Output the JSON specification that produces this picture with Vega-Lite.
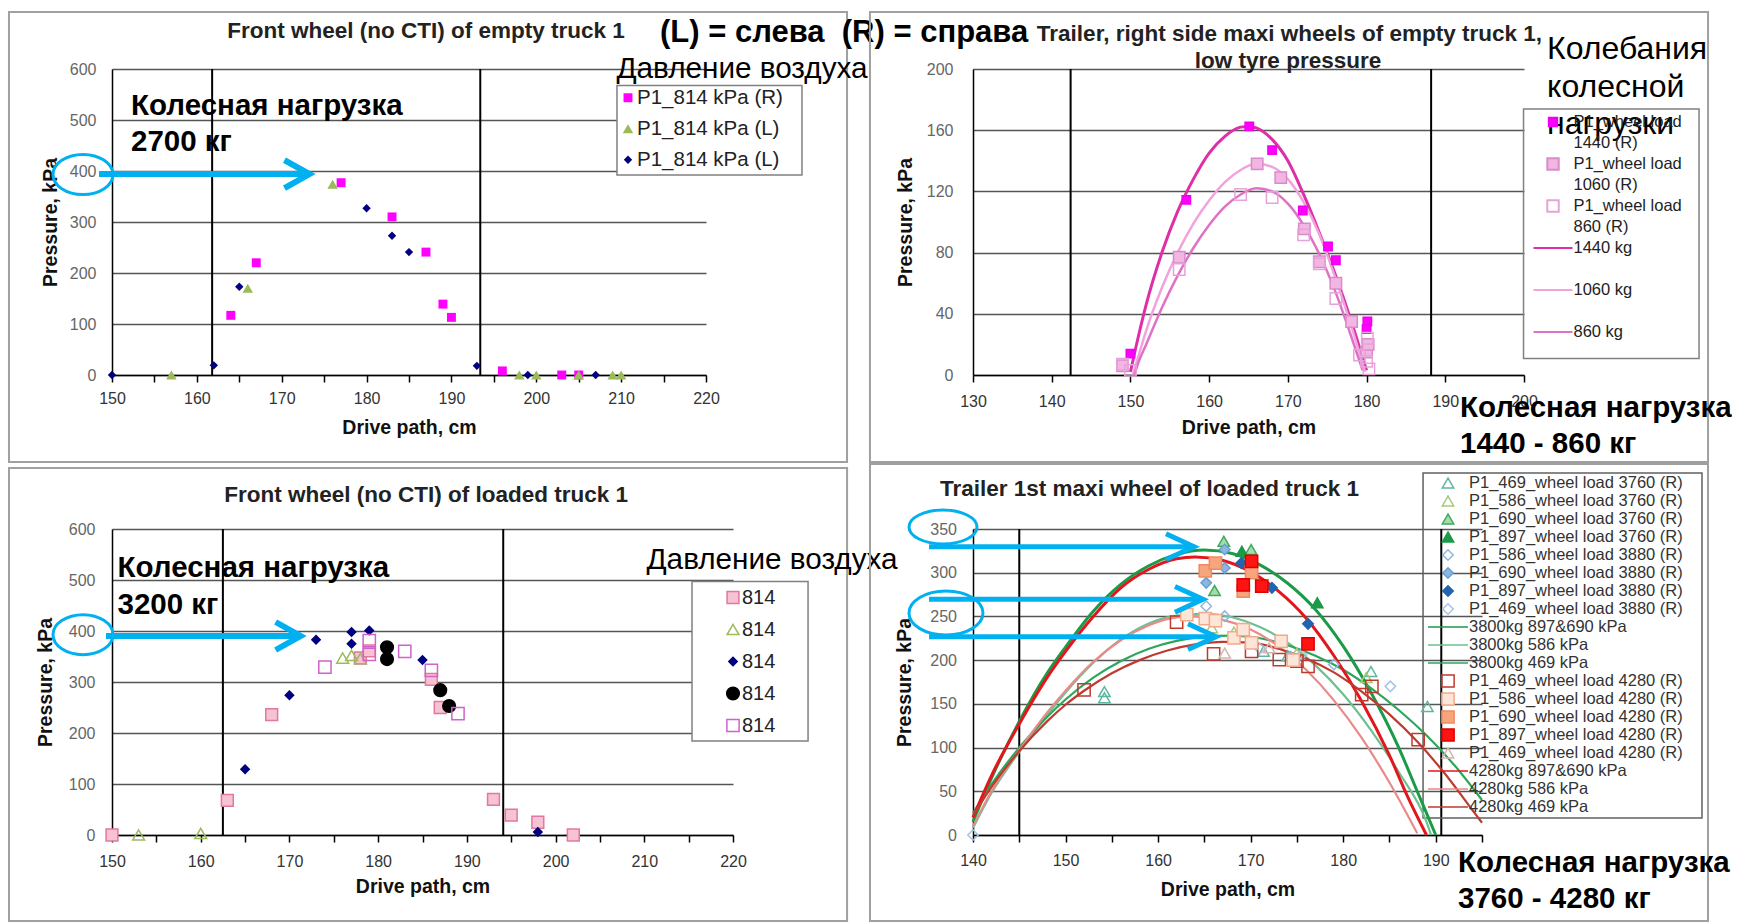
{
"$schema": "https://vega.github.io/schema/vega-lite/v6.json",
"background": "white",
"padding": {"left": 7, "top": 10, "right": 0, "bottom": 0},
"autosize": {"type": "pad"},
"columns": 2,
"spacing": {"row": 154, "column": 240},
"bounds": "flush",
"align": "all",
"resolve": {"scale": {"x": "independent", "y": "independent", "shape": "independent", "fill": "independent", "stroke": "independent", "size": "independent"}},
"config": {
  "view": {"stroke": null},
  "font": "Liberation Sans",
  "axis": {"labelFont": "Liberation Sans", "titleFont": "Liberation Sans", "labelFontSize": 16, "titleFontSize": 19.5, "titleFontWeight": "bold", "titleColor": "#111", "domainColor": "#000", "domainWidth": 1.5, "tickColor": "#000", "tickWidth": 1.5, "gridColor": "#555555", "gridWidth": 1.6, "labelFlush": false, "labelOverlap": false},
  "axisX": {"grid": false, "tickSize": 7, "labelColor": "#333"},
  "axisY": {"grid": true, "ticks": false, "labelColor": "#666"},
  "legend": {"labelFont": "Liberation Sans", "labelColor": "#222", "symbolStrokeWidth": 1.5, "labelLimit": 400}
},
"datasets": {
  "p1": [
    {"x": 164, "y": 117, "s": "P1_814 kPa (R)"}, {"x": 167, "y": 220, "s": "P1_814 kPa (R)"}, {"x": 177, "y": 377, "s": "P1_814 kPa (R)"}, {"x": 183, "y": 310, "s": "P1_814 kPa (R)"}, {"x": 187, "y": 241, "s": "P1_814 kPa (R)"}, {"x": 189, "y": 139, "s": "P1_814 kPa (R)"}, {"x": 190, "y": 113, "s": "P1_814 kPa (R)"}, {"x": 196, "y": 8, "s": "P1_814 kPa (R)"}, {"x": 203, "y": 0, "s": "P1_814 kPa (R)"}, {"x": 205, "y": 0, "s": "P1_814 kPa (R)"},
    {"x": 157, "y": 0, "s": "P1_814 kPa (L)"}, {"x": 166, "y": 170, "s": "P1_814 kPa (L)"}, {"x": 176, "y": 374, "s": "P1_814 kPa (L)"}, {"x": 198, "y": 0, "s": "P1_814 kPa (L)"}, {"x": 200, "y": 0, "s": "P1_814 kPa (L)"}, {"x": 205, "y": 0, "s": "P1_814 kPa (L)"}, {"x": 209, "y": 0, "s": "P1_814 kPa (L)"}, {"x": 210, "y": 0, "s": "P1_814 kPa (L)"},
    {"x": 150, "y": 0, "s": "P1_814 kPa (L) "}, {"x": 162, "y": 19, "s": "P1_814 kPa (L) "}, {"x": 165, "y": 173, "s": "P1_814 kPa (L) "}, {"x": 180, "y": 327, "s": "P1_814 kPa (L) "}, {"x": 183, "y": 273, "s": "P1_814 kPa (L) "}, {"x": 185, "y": 241, "s": "P1_814 kPa (L) "}, {"x": 193, "y": 18, "s": "P1_814 kPa (L) "}, {"x": 199, "y": 0, "s": "P1_814 kPa (L) "}, {"x": 207, "y": 0, "s": "P1_814 kPa (L) "}
  ],
  "p2p": [
    {"x": 150, "y": 14, "s": "s1440"}, {"x": 157.1, "y": 114.5, "s": "s1440"}, {"x": 165.1, "y": 162.5, "s": "s1440"}, {"x": 168, "y": 147, "s": "s1440"}, {"x": 171.9, "y": 107.5, "s": "s1440"}, {"x": 175.1, "y": 84, "s": "s1440"}, {"x": 176.1, "y": 75, "s": "s1440"}, {"x": 180.1, "y": 35, "s": "s1440"}, {"x": 180, "y": 30, "s": "s1440"},
    {"x": 149, "y": 6, "s": "s1060"}, {"x": 156.2, "y": 77, "s": "s1060"}, {"x": 166.1, "y": 138, "s": "s1060"}, {"x": 169.1, "y": 129, "s": "s1060"}, {"x": 172.1, "y": 95.5, "s": "s1060"}, {"x": 174, "y": 74, "s": "s1060"}, {"x": 176.1, "y": 60, "s": "s1060"}, {"x": 178.1, "y": 35, "s": "s1060"}, {"x": 180, "y": 15, "s": "s1060"}, {"x": 180.2, "y": 20, "s": "s1060"},
    {"x": 149, "y": 7, "s": "s860"}, {"x": 150, "y": 3, "s": "s860"}, {"x": 156.2, "y": 69, "s": "s860"}, {"x": 164, "y": 118, "s": "s860"}, {"x": 168, "y": 116, "s": "s860"}, {"x": 172, "y": 91.6, "s": "s860"}, {"x": 174, "y": 72.6, "s": "s860"}, {"x": 176.1, "y": 50, "s": "s860"}, {"x": 179.1, "y": 13, "s": "s860"}, {"x": 180, "y": 9, "s": "s860"}, {"x": 180.1, "y": 24, "s": "s860"}, {"x": 180.3, "y": 4, "s": "s860"}
  ],
  "p2c": [
    {"x": 150, "y": 2, "s": "1440 kg"}, {"x": 151, "y": 25, "s": "1440 kg"}, {"x": 152, "y": 46, "s": "1440 kg"}, {"x": 154, "y": 80, "s": "1440 kg"}, {"x": 156, "y": 107, "s": "1440 kg"}, {"x": 158, "y": 128, "s": "1440 kg"}, {"x": 160, "y": 145, "s": "1440 kg"}, {"x": 162, "y": 156, "s": "1440 kg"}, {"x": 164, "y": 162, "s": "1440 kg"}, {"x": 165, "y": 162.5, "s": "1440 kg"}, {"x": 166, "y": 161.5, "s": "1440 kg"}, {"x": 168, "y": 154, "s": "1440 kg"}, {"x": 170, "y": 140, "s": "1440 kg"}, {"x": 172, "y": 118, "s": "1440 kg"}, {"x": 174, "y": 93, "s": "1440 kg"}, {"x": 176, "y": 66, "s": "1440 kg"}, {"x": 178, "y": 36, "s": "1440 kg"}, {"x": 180, "y": 3, "s": "1440 kg"},
    {"x": 150.3, "y": 0, "s": "1060 kg"}, {"x": 151, "y": 12, "s": "1060 kg"}, {"x": 152, "y": 29, "s": "1060 kg"}, {"x": 154, "y": 57, "s": "1060 kg"}, {"x": 156, "y": 80, "s": "1060 kg"}, {"x": 158, "y": 99, "s": "1060 kg"}, {"x": 160, "y": 114, "s": "1060 kg"}, {"x": 162, "y": 126, "s": "1060 kg"}, {"x": 164, "y": 134, "s": "1060 kg"}, {"x": 166, "y": 138, "s": "1060 kg"}, {"x": 168, "y": 136, "s": "1060 kg"}, {"x": 170, "y": 128, "s": "1060 kg"}, {"x": 172, "y": 113, "s": "1060 kg"}, {"x": 174, "y": 92, "s": "1060 kg"}, {"x": 176, "y": 64, "s": "1060 kg"}, {"x": 178, "y": 33, "s": "1060 kg"}, {"x": 179.8, "y": 2, "s": "1060 kg"},
    {"x": 150.5, "y": 0, "s": "860 kg"}, {"x": 151, "y": 8, "s": "860 kg"}, {"x": 152, "y": 20, "s": "860 kg"}, {"x": 154, "y": 44, "s": "860 kg"}, {"x": 156, "y": 65, "s": "860 kg"}, {"x": 158, "y": 83, "s": "860 kg"}, {"x": 160, "y": 98, "s": "860 kg"}, {"x": 162, "y": 110, "s": "860 kg"}, {"x": 164, "y": 118, "s": "860 kg"}, {"x": 166, "y": 122, "s": "860 kg"}, {"x": 168, "y": 120, "s": "860 kg"}, {"x": 170, "y": 112, "s": "860 kg"}, {"x": 172, "y": 98, "s": "860 kg"}, {"x": 174, "y": 79, "s": "860 kg"}, {"x": 176, "y": 55, "s": "860 kg"}, {"x": 178, "y": 26, "s": "860 kg"}, {"x": 179.5, "y": 3, "s": "860 kg"}
  ],
  "p3": [
    {"x": 150, "y": 0, "s": "814"}, {"x": 163, "y": 68, "s": "814"}, {"x": 168, "y": 236, "s": "814"}, {"x": 178, "y": 347, "s": "814"}, {"x": 179, "y": 361, "s": "814"}, {"x": 186, "y": 305, "s": "814"}, {"x": 187, "y": 250, "s": "814"}, {"x": 193, "y": 70, "s": "814"}, {"x": 195, "y": 39, "s": "814"}, {"x": 198, "y": 25, "s": "814"}, {"x": 202, "y": 0, "s": "814"},
    {"x": 153, "y": 0, "s": "814 "}, {"x": 160, "y": 3, "s": "814 "}, {"x": 176, "y": 347, "s": "814 "}, {"x": 177, "y": 352, "s": "814 "}, {"x": 178, "y": 346, "s": "814 "},
    {"x": 165, "y": 129, "s": "814  "}, {"x": 170, "y": 274, "s": "814  "}, {"x": 173, "y": 383, "s": "814  "}, {"x": 177, "y": 398, "s": "814  "}, {"x": 177, "y": 375, "s": "814  "}, {"x": 179, "y": 401, "s": "814  "}, {"x": 185, "y": 343, "s": "814  "}, {"x": 198, "y": 6, "s": "814  "},
    {"x": 181, "y": 368, "s": "814   "}, {"x": 181, "y": 345, "s": "814   "}, {"x": 187, "y": 284, "s": "814   "}, {"x": 188, "y": 253, "s": "814   "},
    {"x": 174, "y": 329, "s": "814    "}, {"x": 179, "y": 381, "s": "814    "}, {"x": 179, "y": 354, "s": "814    "}, {"x": 183, "y": 360, "s": "814    "}, {"x": 186, "y": 323, "s": "814    "}, {"x": 189, "y": 238, "s": "814    "}
  ],
  "p4p": [
    {"x": 154.2, "y": 164, "s": "P1_469_wheel load 3760 (R)"}, {"x": 154.2, "y": 157, "s": "P1_469_wheel load 3760 (R)"}, {"x": 171.4, "y": 210, "s": "P1_469_wheel load 3760 (R)"}, {"x": 183, "y": 187, "s": "P1_469_wheel load 3760 (R)"}, {"x": 189.1, "y": 147, "s": "P1_469_wheel load 3760 (R)"}, {"x": 174, "y": 205, "s": "P1_469_wheel load 3760 (R)"},
    {"x": 165.8, "y": 237, "s": "P1_586_wheel load 3760 (R)"}, {"x": 168.2, "y": 232, "s": "P1_586_wheel load 3760 (R)"}, {"x": 175, "y": 208, "s": "P1_586_wheel load 3760 (R)"}, {"x": 182.5, "y": 180, "s": "P1_586_wheel load 3760 (R)"},
    {"x": 167.1, "y": 336, "s": "P1_690_wheel load 3760 (R)"}, {"x": 166.1, "y": 279.6, "s": "P1_690_wheel load 3760 (R)"}, {"x": 170.05, "y": 326.5, "s": "P1_690_wheel load 3760 (R)"},
    {"x": 169.05, "y": 324.6, "s": "P1_897_wheel load 3760 (R)"}, {"x": 177.2, "y": 265.6, "s": "P1_897_wheel load 3760 (R)"},
    {"x": 165.2, "y": 261.7, "s": "P1_586_wheel load 3880 (R)"}, {"x": 167.2, "y": 250.3, "s": "P1_586_wheel load 3880 (R)"}, {"x": 179, "y": 195, "s": "P1_586_wheel load 3880 (R)"}, {"x": 174.3, "y": 204, "s": "P1_586_wheel load 3880 (R)"},
    {"x": 167.2, "y": 326.5, "s": "P1_690_wheel load 3880 (R)"}, {"x": 167.2, "y": 305.5, "s": "P1_690_wheel load 3880 (R)"}, {"x": 165.2, "y": 288.4, "s": "P1_690_wheel load 3880 (R)"},
    {"x": 169, "y": 311, "s": "P1_897_wheel load 3880 (R)"}, {"x": 172.3, "y": 282.7, "s": "P1_897_wheel load 3880 (R)"}, {"x": 176.2, "y": 241.5, "s": "P1_897_wheel load 3880 (R)"},
    {"x": 140, "y": 0, "s": "P1_469_wheel load 3880 (R)"}, {"x": 185.1, "y": 170, "s": "P1_469_wheel load 3880 (R)"}, {"x": 171, "y": 213, "s": "P1_469_wheel load 3880 (R)"}, {"x": 175.5, "y": 206, "s": "P1_469_wheel load 3880 (R)"},
    {"x": 152, "y": 166, "s": "P1_469_wheel load 4280 (R)"}, {"x": 162, "y": 243.4, "s": "P1_469_wheel load 4280 (R)"}, {"x": 166, "y": 207.2, "s": "P1_469_wheel load 4280 (R)"}, {"x": 170.1, "y": 210, "s": "P1_469_wheel load 4280 (R)"}, {"x": 173.1, "y": 200.7, "s": "P1_469_wheel load 4280 (R)"}, {"x": 175, "y": 198.8, "s": "P1_469_wheel load 4280 (R)"}, {"x": 176.2, "y": 193, "s": "P1_469_wheel load 4280 (R)"}, {"x": 182, "y": 160.7, "s": "P1_469_wheel load 4280 (R)"}, {"x": 183.1, "y": 170, "s": "P1_469_wheel load 4280 (R)"}, {"x": 188.1, "y": 109, "s": "P1_469_wheel load 4280 (R)"},
    {"x": 163.1, "y": 252, "s": "P1_586_wheel load 4280 (R)"}, {"x": 165.1, "y": 247.6, "s": "P1_586_wheel load 4280 (R)"}, {"x": 166.2, "y": 245.3, "s": "P1_586_wheel load 4280 (R)"}, {"x": 168.2, "y": 225.5, "s": "P1_586_wheel load 4280 (R)"}, {"x": 169.2, "y": 235, "s": "P1_586_wheel load 4280 (R)"}, {"x": 170.1, "y": 219.7, "s": "P1_586_wheel load 4280 (R)"}, {"x": 173.3, "y": 221.5, "s": "P1_586_wheel load 4280 (R)"}, {"x": 174.6, "y": 200, "s": "P1_586_wheel load 4280 (R)"},
    {"x": 165.1, "y": 302, "s": "P1_690_wheel load 4280 (R)"}, {"x": 166.2, "y": 311, "s": "P1_690_wheel load 4280 (R)"}, {"x": 170.1, "y": 300, "s": "P1_690_wheel load 4280 (R)"}, {"x": 169.2, "y": 279, "s": "P1_690_wheel load 4280 (R)"},
    {"x": 170.1, "y": 313, "s": "P1_897_wheel load 4280 (R)"}, {"x": 169.2, "y": 286, "s": "P1_897_wheel load 4280 (R)"}, {"x": 171.2, "y": 284.6, "s": "P1_897_wheel load 4280 (R)"}, {"x": 176.2, "y": 218.7, "s": "P1_897_wheel load 4280 (R)"},
    {"x": 167.2, "y": 208, "s": "P1_469_wheel load 4280 (R) "}, {"x": 172, "y": 214, "s": "P1_469_wheel load 4280 (R) "}
  ],
  "p4c": [
    {"x": 140, "y": 15, "s": "3800kg 897&690 kPa"}, {"x": 142, "y": 65, "s": "3800kg 897&690 kPa"}, {"x": 145, "y": 130, "s": "3800kg 897&690 kPa"}, {"x": 148, "y": 185, "s": "3800kg 897&690 kPa"}, {"x": 150, "y": 215, "s": "3800kg 897&690 kPa"}, {"x": 153, "y": 256, "s": "3800kg 897&690 kPa"}, {"x": 156, "y": 287, "s": "3800kg 897&690 kPa"}, {"x": 159, "y": 308, "s": "3800kg 897&690 kPa"}, {"x": 162, "y": 321, "s": "3800kg 897&690 kPa"}, {"x": 165, "y": 326, "s": "3800kg 897&690 kPa"}, {"x": 168, "y": 322, "s": "3800kg 897&690 kPa"}, {"x": 171, "y": 309, "s": "3800kg 897&690 kPa"}, {"x": 174, "y": 288, "s": "3800kg 897&690 kPa"}, {"x": 177, "y": 258, "s": "3800kg 897&690 kPa"}, {"x": 180, "y": 216, "s": "3800kg 897&690 kPa"}, {"x": 183, "y": 163, "s": "3800kg 897&690 kPa"}, {"x": 186, "y": 100, "s": "3800kg 897&690 kPa"}, {"x": 188, "y": 50, "s": "3800kg 897&690 kPa"}, {"x": 190, "y": 0, "s": "3800kg 897&690 kPa"},
    {"x": 140, "y": 8, "s": "3800kg 586 kPa"}, {"x": 142, "y": 48, "s": "3800kg 586 kPa"}, {"x": 145, "y": 95, "s": "3800kg 586 kPa"}, {"x": 148, "y": 137, "s": "3800kg 586 kPa"}, {"x": 150, "y": 163, "s": "3800kg 586 kPa"}, {"x": 153, "y": 197, "s": "3800kg 586 kPa"}, {"x": 156, "y": 224, "s": "3800kg 586 kPa"}, {"x": 159, "y": 242, "s": "3800kg 586 kPa"}, {"x": 162, "y": 251, "s": "3800kg 586 kPa"}, {"x": 165, "y": 253, "s": "3800kg 586 kPa"}, {"x": 168, "y": 249, "s": "3800kg 586 kPa"}, {"x": 171, "y": 238, "s": "3800kg 586 kPa"}, {"x": 174, "y": 220, "s": "3800kg 586 kPa"}, {"x": 177, "y": 194, "s": "3800kg 586 kPa"}, {"x": 180, "y": 161, "s": "3800kg 586 kPa"}, {"x": 183, "y": 120, "s": "3800kg 586 kPa"}, {"x": 186, "y": 72, "s": "3800kg 586 kPa"}, {"x": 189, "y": 15, "s": "3800kg 586 kPa"}, {"x": 189.5, "y": 0, "s": "3800kg 586 kPa"},
    {"x": 140, "y": 25, "s": "3800kg 469 kPa"}, {"x": 142, "y": 58, "s": "3800kg 469 kPa"}, {"x": 145, "y": 100, "s": "3800kg 469 kPa"}, {"x": 148, "y": 135, "s": "3800kg 469 kPa"}, {"x": 150, "y": 155, "s": "3800kg 469 kPa"}, {"x": 153, "y": 180, "s": "3800kg 469 kPa"}, {"x": 156, "y": 199, "s": "3800kg 469 kPa"}, {"x": 159, "y": 213, "s": "3800kg 469 kPa"}, {"x": 162, "y": 222, "s": "3800kg 469 kPa"}, {"x": 165, "y": 227, "s": "3800kg 469 kPa"}, {"x": 168, "y": 228, "s": "3800kg 469 kPa"}, {"x": 171, "y": 225, "s": "3800kg 469 kPa"}, {"x": 174, "y": 217, "s": "3800kg 469 kPa"}, {"x": 177, "y": 205, "s": "3800kg 469 kPa"}, {"x": 180, "y": 189, "s": "3800kg 469 kPa"}, {"x": 183, "y": 168, "s": "3800kg 469 kPa"}, {"x": 186, "y": 143, "s": "3800kg 469 kPa"}, {"x": 189, "y": 114, "s": "3800kg 469 kPa"}, {"x": 192, "y": 80, "s": "3800kg 469 kPa"}, {"x": 195, "y": 40, "s": "3800kg 469 kPa"},
    {"x": 140, "y": 20, "s": "4280kg 897&690 kPa"}, {"x": 142, "y": 68, "s": "4280kg 897&690 kPa"}, {"x": 145, "y": 127, "s": "4280kg 897&690 kPa"}, {"x": 148, "y": 180, "s": "4280kg 897&690 kPa"}, {"x": 150, "y": 210, "s": "4280kg 897&690 kPa"}, {"x": 153, "y": 250, "s": "4280kg 897&690 kPa"}, {"x": 156, "y": 283, "s": "4280kg 897&690 kPa"}, {"x": 159, "y": 304, "s": "4280kg 897&690 kPa"}, {"x": 162, "y": 316, "s": "4280kg 897&690 kPa"}, {"x": 164, "y": 318, "s": "4280kg 897&690 kPa"}, {"x": 167, "y": 314, "s": "4280kg 897&690 kPa"}, {"x": 170, "y": 301, "s": "4280kg 897&690 kPa"}, {"x": 173, "y": 279, "s": "4280kg 897&690 kPa"}, {"x": 176, "y": 248, "s": "4280kg 897&690 kPa"}, {"x": 179, "y": 205, "s": "4280kg 897&690 kPa"}, {"x": 182, "y": 153, "s": "4280kg 897&690 kPa"}, {"x": 185, "y": 91, "s": "4280kg 897&690 kPa"}, {"x": 187, "y": 43, "s": "4280kg 897&690 kPa"}, {"x": 189, "y": 0, "s": "4280kg 897&690 kPa"},
    {"x": 140, "y": 10, "s": "4280kg 586 kPa"}, {"x": 142, "y": 50, "s": "4280kg 586 kPa"}, {"x": 145, "y": 97, "s": "4280kg 586 kPa"}, {"x": 148, "y": 140, "s": "4280kg 586 kPa"}, {"x": 150, "y": 165, "s": "4280kg 586 kPa"}, {"x": 153, "y": 198, "s": "4280kg 586 kPa"}, {"x": 156, "y": 223, "s": "4280kg 586 kPa"}, {"x": 159, "y": 240, "s": "4280kg 586 kPa"}, {"x": 162, "y": 249, "s": "4280kg 586 kPa"}, {"x": 164, "y": 250, "s": "4280kg 586 kPa"}, {"x": 167, "y": 246, "s": "4280kg 586 kPa"}, {"x": 170, "y": 235, "s": "4280kg 586 kPa"}, {"x": 173, "y": 216, "s": "4280kg 586 kPa"}, {"x": 176, "y": 189, "s": "4280kg 586 kPa"}, {"x": 179, "y": 154, "s": "4280kg 586 kPa"}, {"x": 182, "y": 111, "s": "4280kg 586 kPa"}, {"x": 185, "y": 60, "s": "4280kg 586 kPa"}, {"x": 188, "y": 2, "s": "4280kg 586 kPa"},
    {"x": 140, "y": 22, "s": "4280kg 469 kPa"}, {"x": 142, "y": 55, "s": "4280kg 469 kPa"}, {"x": 145, "y": 96, "s": "4280kg 469 kPa"}, {"x": 148, "y": 130, "s": "4280kg 469 kPa"}, {"x": 150, "y": 149, "s": "4280kg 469 kPa"}, {"x": 152, "y": 165, "s": "4280kg 469 kPa"}, {"x": 155, "y": 185, "s": "4280kg 469 kPa"}, {"x": 158, "y": 200, "s": "4280kg 469 kPa"}, {"x": 161, "y": 211, "s": "4280kg 469 kPa"}, {"x": 164, "y": 218, "s": "4280kg 469 kPa"}, {"x": 167, "y": 221, "s": "4280kg 469 kPa"}, {"x": 170, "y": 220, "s": "4280kg 469 kPa"}, {"x": 173, "y": 213, "s": "4280kg 469 kPa"}, {"x": 176, "y": 202, "s": "4280kg 469 kPa"}, {"x": 179, "y": 186, "s": "4280kg 469 kPa"}, {"x": 182, "y": 164, "s": "4280kg 469 kPa"}, {"x": 185, "y": 138, "s": "4280kg 469 kPa"}, {"x": 188, "y": 107, "s": "4280kg 469 kPa"}, {"x": 191, "y": 70, "s": "4280kg 469 kPa"}, {"x": 194, "y": 28, "s": "4280kg 469 kPa"}, {"x": 195, "y": 14, "s": "4280kg 469 kPa"}
  ]
},
"concat": [
  {
    "width": 594, "height": 306,
    "layer": [
      {"data": {"values": [{}]}, "mark": {"type": "rect", "fill": "transparent", "stroke": "#a0a0a0", "strokeWidth": 2},
       "encoding": {"x": {"datum": 137.86}, "x2": {"datum": 236.62}, "y": {"datum": 711.8}, "y2": {"datum": -170.6}}},
      {"data": {"values": [{"x": 161.8}, {"x": 193.4}]}, "mark": {"type": "rule", "color": "#000", "strokeWidth": 2},
       "encoding": {"x": {"field": "x", "type": "quantitative"}, "y": {"datum": 0}, "y2": {"datum": 600}}},
      {"data": {"values": [{}]}, "mark": {"type": "rect", "fill": "#ffffff", "stroke": "#808080", "strokeWidth": 1.5},
       "encoding": {"x": {"datum": 209.51}, "x2": {"datum": 231.31}, "y": {"datum": 567.6}, "y2": {"datum": 392.2}}},
      {"data": {"name": "p1"}, "mark": {"type": "point", "filled": true, "opacity": 1, "strokeWidth": 0},
       "encoding": {
         "x": {"field": "x", "type": "quantitative", "scale": {"domain": [150, 220], "nice": false, "zero": false},
               "axis": {"title": "Drive path, cm", "values": [150,155,160,165,170,175,180,185,190,195,200,205,210,215,220], "labelExpr": "datum.value % 10 === 0 ? datum.label : ''", "labelPadding": 8, "titlePadding": 12}},
         "y": {"field": "y", "type": "quantitative", "scale": {"domain": [0, 600], "nice": false, "zero": false},
               "axis": {"title": "Pressure, kPa", "values": [0,100,200,300,400,500,600], "labelPadding": 16, "titlePadding": 9}},
         "shape": {"field": "s", "type": "nominal", "scale": {"domain": ["P1_814 kPa (R)", "P1_814 kPa (L)", "P1_814 kPa (L) "], "range": ["square", "triangle-up", "diamond"]},
                   "legend": {"title": null, "orient": "none", "legendX": 505, "legendY": 15.5, "labelFontSize": 20.5, "padding": 3, "rowPadding": 10, "symbolOffset": -2.25, "labelOffset": -1.25, "fillColor": "transparent", "strokeColor": "transparent"}},
         "fill": {"field": "s", "type": "nominal", "scale": {"domain": ["P1_814 kPa (R)", "P1_814 kPa (L)", "P1_814 kPa (L) "], "range": ["#ff00ff", "#9bbb59", "#000080"]},
                  "legend": {"title": null, "orient": "none", "legendX": 505, "legendY": 15.5, "labelFontSize": 20.5, "padding": 3, "rowPadding": 10, "symbolOffset": -2.25, "labelOffset": -1.25, "fillColor": "transparent", "strokeColor": "transparent"}},
         "size": {"field": "s", "type": "nominal", "scale": {"type": "ordinal", "domain": ["P1_814 kPa (R)", "P1_814 kPa (L)", "P1_814 kPa (L) "], "range": [80, 110, 70]},
                  "legend": {"title": null, "orient": "none", "legendX": 505, "legendY": 15.5, "labelFontSize": 20.5, "padding": 3, "rowPadding": 10, "symbolOffset": -2.25, "labelOffset": -1.25, "fillColor": "transparent", "strokeColor": "transparent"}}
       }},
      {"data": {"values": [{}]}, "mark": {"type": "text", "text": "Front wheel (no CTI) of empty truck 1", "fontSize": 22.5, "fontWeight": "bold", "color": "#222", "align": "center", "baseline": "middle"},
       "encoding": {"x": {"datum": 187.0}, "y": {"datum": 674.5}}},
      {"data": {"values": [{}]}, "mark": {"type": "text", "text": "(L) = слева\u00a0 (R) = справа", "fontSize": 31, "fontWeight": "bold", "color": "#000", "align": "left", "baseline": "middle"},
       "encoding": {"x": {"datum": 214.58}, "y": {"datum": 670.6}}},
      {"data": {"values": [{}]}, "mark": {"type": "text", "text": "Давление воздуха", "fontSize": 29.7, "color": "#000", "align": "center", "baseline": "middle"},
       "encoding": {"x": {"datum": 224.24}, "y": {"datum": 600}}},
      {"data": {"values": [{}]}, "mark": {"type": "text", "text": "Колесная нагрузка", "fontSize": 29.5, "fontWeight": "bold", "color": "#000", "align": "left", "baseline": "middle"},
       "encoding": {"x": {"datum": 152.24}, "y": {"datum": 526.5}}},
      {"data": {"values": [{}]}, "mark": {"type": "text", "text": "2700 кг", "fontSize": 29.5, "fontWeight": "bold", "color": "#000", "align": "left", "baseline": "middle"},
       "encoding": {"x": {"datum": 152.24}, "y": {"datum": 456.9}}},
      {"data": {"values": [{}]}, "mark": {"type": "rule", "color": "#00b0f0", "strokeWidth": 6},
       "encoding": {"x": {"datum": 148.47}, "x2": {"datum": 172.9}, "y": {"datum": 394.1}}},
      {"data": {"values": [{}]}, "mark": {"type": "point", "shape": "M-1,-0.56L0,0L-1,0.56", "size": 2500, "filled": false, "stroke": "#00b0f0", "strokeWidth": 6, "opacity": 1},
       "encoding": {"x": {"datum": 173.27}, "y": {"datum": 394.1}}},
      {"data": {"values": [{}]}, "mark": {"type": "point", "shape": "M-1,0A1,0.667,0,1,1,1,0A1,0.667,0,1,1,-1,0Z", "size": 3600, "filled": false, "stroke": "#00b0f0", "strokeWidth": 3, "opacity": 1},
       "encoding": {"x": {"datum": 146.58}, "y": {"datum": 393.1}}}
    ]
  },
  {
    "width": 551, "height": 306,
    "layer": [
      {"data": {"values": [{}]}, "mark": {"type": "rect", "fill": "transparent", "stroke": "#a0a0a0", "strokeWidth": 2},
       "encoding": {"x": {"datum": 116.91}, "x2": {"datum": 223.38}, "y": {"datum": 237.25}, "y2": {"datum": -56.86}}},
      {"data": {"values": [{"x": 142.4}, {"x": 188.2}]}, "mark": {"type": "rule", "color": "#000", "strokeWidth": 2},
       "encoding": {"x": {"field": "x", "type": "quantitative"}, "y": {"datum": 0}, "y2": {"datum": 200}}},
      {"data": {"values": [{}]}, "mark": {"type": "rect", "fill": "transparent", "stroke": "#808080", "strokeWidth": 1.5},
       "encoding": {"x": {"datum": 199.94}, "x2": {"datum": 222.24}, "y": {"datum": 173.9}, "y2": {"datum": 10.8}}},
      {"data": {"name": "p2c"}, "mark": {"type": "line", "interpolate": "monotone"},
       "encoding": {
         "x": {"field": "x", "type": "quantitative"},
         "y": {"field": "y", "type": "quantitative"},
         "stroke": {"field": "s", "type": "nominal", "scale": {"domain": ["s1440", "l1440", "s1060", "l1060", "s860", "l860", "1440 kg", "b1", "1060 kg", "b2", "860 kg"], "range": ["#f000f0", "transparent", "#da8acb", "transparent", "#e6a3d9", "transparent", "#dd2fa8", "transparent", "#f0a3dd", "transparent", "#e071c6"]},
                    "legend": {"title": null, "orient": "none", "legendX": 550.5, "legendY": 40, "labelExpr": "(datum.value == 's1440' || datum.value == 's1060' || datum.value == 's860') ? 'P1_wheel load' : datum.value == 'l1440' ? '1440 (R)' : datum.value == 'l1060' ? '1060 (R)' : datum.value == 'l860' ? '860 (R)' : (datum.value == 'b1' || datum.value == 'b2') ? '' : datum.value", "labelFontSize": 16.5, "padding": 2.7, "rowPadding": 0, "clipHeight": 20.6, "symbolOffset": 6.3, "labelOffset": 0, "symbolStrokeWidth": 2, "fillColor": "transparent", "strokeColor": "transparent", "zindex": 0}},
         "strokeWidth": {"condition": {"test": "datum.s === '1440 kg'", "value": 3}, "value": 2.5}
       }},
      {"data": {"name": "p2p"}, "mark": {"type": "point", "filled": true, "opacity": 1, "strokeWidth": 1.5},
       "encoding": {
         "x": {"field": "x", "type": "quantitative", "scale": {"domain": [130, 200], "nice": false, "zero": false},
               "axis": {"title": "Drive path, cm", "values": [130,135,140,145,150,155,160,165,170,175,180,185,190,195,200], "labelExpr": "datum.value % 10 === 0 ? datum.label : ''", "labelPadding": 11.5, "titlePadding": 9}},
         "y": {"field": "y", "type": "quantitative", "scale": {"domain": [0, 200], "nice": false, "zero": false},
               "axis": {"title": "Pressure, kPa", "values": [0,20,40,60,80,100,120,140,160,180,200], "labelPadding": 20, "titlePadding": 11}},
         "shape": {"field": "s", "type": "nominal", "scale": {"domain": ["s1440", "l1440", "s1060", "l1060", "s860", "l860", "1440 kg", "b1", "1060 kg", "b2", "860 kg"], "range": ["square", "square", "square", "square", "square", "square", "stroke", "square", "stroke", "square", "stroke"]},
                   "legend": {"title": null, "orient": "none", "legendX": 550.5, "legendY": 40, "labelExpr": "(datum.value == 's1440' || datum.value == 's1060' || datum.value == 's860') ? 'P1_wheel load' : datum.value == 'l1440' ? '1440 (R)' : datum.value == 'l1060' ? '1060 (R)' : datum.value == 'l860' ? '860 (R)' : (datum.value == 'b1' || datum.value == 'b2') ? '' : datum.value", "labelFontSize": 16.5, "padding": 2.7, "rowPadding": 0, "clipHeight": 20.6, "symbolOffset": 6.3, "labelOffset": 0, "symbolStrokeWidth": 2, "fillColor": "transparent", "strokeColor": "transparent", "zindex": 0}},
         "fill": {"field": "s", "type": "nominal", "scale": {"domain": ["s1440", "l1440", "s1060", "l1060", "s860", "l860", "1440 kg", "b1", "1060 kg", "b2", "860 kg"], "range": ["#ff00ff", "transparent", "#f2b6e2", "transparent", "transparent", "transparent", "transparent", "transparent", "transparent", "transparent", "transparent"]},
                  "legend": {"title": null, "orient": "none", "legendX": 550.5, "legendY": 40, "labelExpr": "(datum.value == 's1440' || datum.value == 's1060' || datum.value == 's860') ? 'P1_wheel load' : datum.value == 'l1440' ? '1440 (R)' : datum.value == 'l1060' ? '1060 (R)' : datum.value == 'l860' ? '860 (R)' : (datum.value == 'b1' || datum.value == 'b2') ? '' : datum.value", "labelFontSize": 16.5, "padding": 2.7, "rowPadding": 0, "clipHeight": 20.6, "symbolOffset": 6.3, "labelOffset": 0, "symbolStrokeWidth": 2, "fillColor": "transparent", "strokeColor": "transparent", "zindex": 0}},
         "stroke": {"field": "s", "type": "nominal", "scale": {"domain": ["s1440", "l1440", "s1060", "l1060", "s860", "l860", "1440 kg", "b1", "1060 kg", "b2", "860 kg"], "range": ["#f000f0", "transparent", "#da8acb", "transparent", "#e6a3d9", "transparent", "#dd2fa8", "transparent", "#f0a3dd", "transparent", "#e071c6"]},
                    "legend": {"title": null, "orient": "none", "legendX": 550.5, "legendY": 40, "labelExpr": "(datum.value == 's1440' || datum.value == 's1060' || datum.value == 's860') ? 'P1_wheel load' : datum.value == 'l1440' ? '1440 (R)' : datum.value == 'l1060' ? '1060 (R)' : datum.value == 'l860' ? '860 (R)' : (datum.value == 'b1' || datum.value == 'b2') ? '' : datum.value", "labelFontSize": 16.5, "padding": 2.7, "rowPadding": 0, "clipHeight": 20.6, "symbolOffset": 6.3, "labelOffset": 0, "symbolStrokeWidth": 2, "fillColor": "transparent", "strokeColor": "transparent", "zindex": 0}},
         "size": {"field": "s", "type": "nominal", "scale": {"type": "ordinal", "domain": ["s1440", "l1440", "s1060", "l1060", "s860", "l860", "1440 kg", "b1", "1060 kg", "b2", "860 kg"], "range": [70, 10, 130, 10, 130, 10, 1521, 10, 1521, 10, 1521]},
                  "legend": {"title": null, "orient": "none", "legendX": 550.5, "legendY": 40, "labelExpr": "(datum.value == 's1440' || datum.value == 's1060' || datum.value == 's860') ? 'P1_wheel load' : datum.value == 'l1440' ? '1440 (R)' : datum.value == 'l1060' ? '1060 (R)' : datum.value == 'l860' ? '860 (R)' : (datum.value == 'b1' || datum.value == 'b2') ? '' : datum.value", "labelFontSize": 16.5, "padding": 2.7, "rowPadding": 0, "clipHeight": 20.6, "symbolOffset": 6.3, "labelOffset": 0, "symbolStrokeWidth": 2, "fillColor": "transparent", "strokeColor": "transparent", "zindex": 0}}
       }},
      {"data": {"values": [{}]}, "mark": {"type": "text", "text": "Trailer, right side maxi wheels of empty truck 1,", "fontSize": 22.5, "fontWeight": "bold", "color": "#222", "align": "center", "baseline": "middle"},
       "encoding": {"x": {"datum": 170.2}, "y": {"datum": 222.6}}},
      {"data": {"values": [{}]}, "mark": {"type": "text", "text": "low tyre pressure", "fontSize": 22.5, "fontWeight": "bold", "color": "#222", "align": "center", "baseline": "middle"},
       "encoding": {"x": {"datum": 170.02}, "y": {"datum": 205.2}}},
      {"data": {"values": [{}]}, "mark": {"type": "text", "text": "Колебания", "fontSize": 32, "color": "#000", "align": "left", "baseline": "middle"},
       "encoding": {"x": {"datum": 202.93}, "y": {"datum": 213.2}}},
      {"data": {"values": [{}]}, "mark": {"type": "text", "text": "колесной", "fontSize": 32, "color": "#000", "align": "left", "baseline": "middle"},
       "encoding": {"x": {"datum": 202.93}, "y": {"datum": 188.5}}},
      {"data": {"values": [{}]}, "mark": {"type": "text", "text": "нагрузки", "fontSize": 32, "color": "#000", "align": "left", "baseline": "middle"},
       "encoding": {"x": {"datum": 202.93}, "y": {"datum": 163.9}}},
      {"data": {"values": [{}]}, "mark": {"type": "text", "text": "Колесная нагрузка", "fontSize": 29.5, "fontWeight": "bold", "color": "#000", "align": "left", "baseline": "middle"},
       "encoding": {"x": {"datum": 191.87}, "y": {"datum": -21.8}}},
      {"data": {"values": [{}]}, "mark": {"type": "text", "text": "1440 - 860 кг", "fontSize": 29.5, "fontWeight": "bold", "color": "#000", "align": "left", "baseline": "middle"},
       "encoding": {"x": {"datum": 191.87}, "y": {"datum": -45.0}}}
    ]
  },
  {
    "width": 621, "height": 306,
    "layer": [
      {"data": {"values": [{}]}, "mark": {"type": "rect", "fill": "transparent", "stroke": "#a0a0a0", "strokeWidth": 2},
       "encoding": {"x": {"datum": 138.39}, "x2": {"datum": 232.86}, "y": {"datum": 719.6}, "y2": {"datum": -168.6}}},
      {"data": {"values": [{"x": 162.5}, {"x": 194.1}]}, "mark": {"type": "rule", "color": "#000", "strokeWidth": 2},
       "encoding": {"x": {"field": "x", "type": "quantitative"}, "y": {"datum": 0}, "y2": {"datum": 600}}},
      {"data": {"values": [{}]}, "mark": {"type": "rect", "fill": "#ffffff", "stroke": "#808080", "strokeWidth": 1.5},
       "encoding": {"x": {"datum": 215.38}, "x2": {"datum": 228.46}, "y": {"datum": 497.1}, "y2": {"datum": 184.3}}},
      {"data": {"name": "p3"}, "mark": {"type": "point", "filled": true, "opacity": 1, "strokeWidth": 1.5},
       "encoding": {
         "x": {"field": "x", "type": "quantitative", "scale": {"domain": [150, 220], "nice": false, "zero": false},
               "axis": {"title": "Drive path, cm", "values": [150,155,160,165,170,175,180,185,190,195,200,205,210,215,220], "labelExpr": "datum.value % 10 === 0 ? datum.label : ''", "labelPadding": 11, "titlePadding": 8}},
         "y": {"field": "y", "type": "quantitative", "scale": {"domain": [0, 600], "nice": false, "zero": false},
               "axis": {"title": "Pressure, kPa", "values": [0,100,200,300,400,500,600], "labelPadding": 17, "titlePadding": 13}},
         "shape": {"field": "s", "type": "nominal", "scale": {"domain": ["814", "814 ", "814  ", "814   ", "814    "], "range": ["square", "triangle-up", "diamond", "circle", "square"]},
                   "legend": {"title": null, "orient": "none", "legendX": 580, "legendY": 52.5, "labelFontSize": 20, "padding": 6, "rowPadding": 12, "symbolOffset": 25, "labelOffset": -1, "fillColor": "transparent", "strokeColor": "transparent"}},
         "fill": {"field": "s", "type": "nominal", "scale": {"domain": ["814", "814 ", "814  ", "814   ", "814    "], "range": ["#f7c3d4", "transparent", "#000080", "#000000", "transparent"]},
                  "legend": {"title": null, "orient": "none", "legendX": 580, "legendY": 52.5, "labelFontSize": 20, "padding": 6, "rowPadding": 12, "symbolOffset": 25, "labelOffset": -1, "fillColor": "transparent", "strokeColor": "transparent"}},
         "stroke": {"field": "s", "type": "nominal", "scale": {"domain": ["814", "814 ", "814  ", "814   ", "814    "], "range": ["#e2779f", "#9bbb59", "#000080", "#000000", "#d062cc"]},
                    "legend": {"title": null, "orient": "none", "legendX": 580, "legendY": 52.5, "labelFontSize": 20, "padding": 6, "rowPadding": 12, "symbolOffset": 25, "labelOffset": -1, "fillColor": "transparent", "strokeColor": "transparent"}},
         "size": {"field": "s", "type": "nominal", "scale": {"type": "ordinal", "domain": ["814", "814 ", "814  ", "814   ", "814    "], "range": [140, 140, 70, 160, 150]},
                  "legend": {"title": null, "orient": "none", "legendX": 580, "legendY": 52.5, "labelFontSize": 20, "padding": 6, "rowPadding": 12, "symbolOffset": 25, "labelOffset": -1, "fillColor": "transparent", "strokeColor": "transparent"}}
       }},
      {"data": {"values": [{}]}, "mark": {"type": "text", "text": "Front wheel (no CTI) of loaded truck 1", "fontSize": 22.5, "fontWeight": "bold", "color": "#222", "align": "center", "baseline": "middle"},
       "encoding": {"x": {"datum": 185.4}, "y": {"datum": 666.7}}},
      {"data": {"values": [{}]}, "mark": {"type": "text", "text": "Давление воздуха", "fontSize": 29.7, "color": "#000", "align": "center", "baseline": "middle"},
       "encoding": {"x": {"datum": 224.4}, "y": {"datum": 538.4}}},
      {"data": {"values": [{}]}, "mark": {"type": "text", "text": "Колесная нагрузка", "fontSize": 29.5, "fontWeight": "bold", "color": "#000", "align": "left", "baseline": "middle"},
       "encoding": {"x": {"datum": 150.62}, "y": {"datum": 523.5}}},
      {"data": {"values": [{}]}, "mark": {"type": "text", "text": "3200 кг", "fontSize": 29.5, "fontWeight": "bold", "color": "#000", "align": "left", "baseline": "middle"},
       "encoding": {"x": {"datum": 150.62}, "y": {"datum": 451.0}}},
      {"data": {"values": [{}]}, "mark": {"type": "rule", "color": "#00b0f0", "strokeWidth": 6},
       "encoding": {"x": {"datum": 149.32}, "x2": {"datum": 170.9}, "y": {"datum": 390.2}}},
      {"data": {"values": [{}]}, "mark": {"type": "point", "shape": "M-1,-0.56L0,0L-1,0.56", "size": 2500, "filled": false, "stroke": "#00b0f0", "strokeWidth": 6, "opacity": 1},
       "encoding": {"x": {"datum": 171.26}, "y": {"datum": 390.2}}},
      {"data": {"values": [{}]}, "mark": {"type": "point", "shape": "M-1,0A1,0.667,0,1,1,1,0A1,0.667,0,1,1,-1,0Z", "size": 3600, "filled": false, "stroke": "#00b0f0", "strokeWidth": 3, "opacity": 1},
       "encoding": {"x": {"datum": 146.73}, "y": {"datum": 392.7}}}
    ]
  },
  {
    "width": 509, "height": 306,
    "layer": [
      {"data": {"values": [{}]}, "mark": {"type": "rect", "fill": "transparent", "stroke": "#a0a0a0", "strokeWidth": 2},
       "encoding": {"x": {"datum": 128.87}, "x2": {"datum": 219.42}, "y": {"datum": 424.3}, "y2": {"datum": -98.4}}},
      {"data": {"values": [{"x": 145.0}, {"x": 190.6}]}, "mark": {"type": "rule", "color": "#000", "strokeWidth": 2},
       "encoding": {"x": {"field": "x", "type": "quantitative"}, "y": {"datum": 0}, "y2": {"datum": 350}}},
      {"data": {"values": [{}]}, "mark": {"type": "rect", "fill": "transparent", "stroke": "#606060", "strokeWidth": 1.5},
       "encoding": {"x": {"datum": 188.63}, "x2": {"datum": 218.77}, "y": {"datum": 414.0}, "y2": {"datum": 19.4}}},
      {"data": {"name": "p4c"}, "mark": {"type": "line", "interpolate": "monotone"},
       "encoding": {
         "x": {"field": "x", "type": "quantitative"},
         "y": {"field": "y", "type": "quantitative"},
         "stroke": {"field": "s", "type": "nominal", "scale": {"domain": ["P1_469_wheel load 3760 (R)", "P1_586_wheel load 3760 (R)", "P1_690_wheel load 3760 (R)", "P1_897_wheel load 3760 (R)", "P1_586_wheel load 3880 (R)", "P1_690_wheel load 3880 (R)", "P1_897_wheel load 3880 (R)", "P1_469_wheel load 3880 (R)", "3800kg 897&690 kPa", "3800kg 586 kPa", "3800kg 469 kPa", "P1_469_wheel load 4280 (R)", "P1_586_wheel load 4280 (R)", "P1_690_wheel load 4280 (R)", "P1_897_wheel load 4280 (R)", "P1_469_wheel load 4280 (R) ", "4280kg 897&690 kPa", "4280kg 586 kPa", "4280kg 469 kPa"],
                    "range": ["#5db79e", "#a7c97c", "#3eaa5e", "#1b9a48", "#8db7df", "#6a9fd3", "#2165ae", "#a8c3e3", "#1b9a48", "#6dc08f", "#2da65c", "#c0392b", "#f2a98a", "#ee8b5f", "#e00000", "#d6b4b0", "#e2161c", "#e98a8a", "#bf3a30"]},
                    "legend": {"title": null, "orient": "none", "legendX": 450, "legendY": -56, "labelFontSize": 16.5, "padding": 1, "rowPadding": 0, "clipHeight": 18, "symbolOffset": 3, "labelOffset": 0, "fillColor": "transparent", "strokeColor": "transparent", "zindex": 0, "labelColor": "#333"}},
         "strokeWidth": {"condition": {"test": "indexof(datum.s, '897') >= 0", "value": 3}, "value": 2.2}
       }},
      {"data": {"name": "p4p"}, "mark": {"type": "point", "filled": true, "opacity": 1, "strokeWidth": 1.5},
       "encoding": {
         "x": {"field": "x", "type": "quantitative", "scale": {"domain": [140, 195], "nice": false, "zero": false},
               "axis": {"title": "Drive path, cm", "values": [140,145,150,155,160,165,170,175,180,185,190,195], "labelExpr": "datum.value % 10 === 0 ? datum.label : ''", "labelPadding": 10, "titlePadding": 12}},
         "y": {"field": "y", "type": "quantitative", "scale": {"domain": [0, 350], "nice": false, "zero": false},
               "axis": {"title": "Pressure, kPa", "values": [0,50,100,150,200,250,300,350], "labelPadding": 16.5, "titlePadding": 15}},
         "shape": {"field": "s", "type": "nominal", "scale": {"domain": ["P1_469_wheel load 3760 (R)", "P1_586_wheel load 3760 (R)", "P1_690_wheel load 3760 (R)", "P1_897_wheel load 3760 (R)", "P1_586_wheel load 3880 (R)", "P1_690_wheel load 3880 (R)", "P1_897_wheel load 3880 (R)", "P1_469_wheel load 3880 (R)", "3800kg 897&690 kPa", "3800kg 586 kPa", "3800kg 469 kPa", "P1_469_wheel load 4280 (R)", "P1_586_wheel load 4280 (R)", "P1_690_wheel load 4280 (R)", "P1_897_wheel load 4280 (R)", "P1_469_wheel load 4280 (R) ", "4280kg 897&690 kPa", "4280kg 586 kPa", "4280kg 469 kPa"],
                   "range": ["triangle-up", "triangle-up", "triangle-up", "triangle-up", "diamond", "diamond", "diamond", "diamond", "stroke", "stroke", "stroke", "square", "square", "square", "square", "triangle-up", "stroke", "stroke", "stroke"]},
                   "legend": {"title": null, "orient": "none", "legendX": 450, "legendY": -56, "labelFontSize": 16.5, "padding": 1, "rowPadding": 0, "clipHeight": 18, "symbolOffset": 3, "labelOffset": 0, "fillColor": "transparent", "strokeColor": "transparent", "zindex": 0, "labelColor": "#333"}},
         "fill": {"field": "s", "type": "nominal", "scale": {"domain": ["P1_469_wheel load 3760 (R)", "P1_586_wheel load 3760 (R)", "P1_690_wheel load 3760 (R)", "P1_897_wheel load 3760 (R)", "P1_586_wheel load 3880 (R)", "P1_690_wheel load 3880 (R)", "P1_897_wheel load 3880 (R)", "P1_469_wheel load 3880 (R)", "3800kg 897&690 kPa", "3800kg 586 kPa", "3800kg 469 kPa", "P1_469_wheel load 4280 (R)", "P1_586_wheel load 4280 (R)", "P1_690_wheel load 4280 (R)", "P1_897_wheel load 4280 (R)", "P1_469_wheel load 4280 (R) ", "4280kg 897&690 kPa", "4280kg 586 kPa", "4280kg 469 kPa"],
                  "range": ["transparent", "transparent", "#a6dbae", "#1b9a48", "transparent", "#8cb6e0", "#2165ae", "transparent", "transparent", "transparent", "transparent", "transparent", "#fde5d8", "#f7a57e", "#ff1414", "transparent", "transparent", "transparent", "transparent"]},
                  "legend": {"title": null, "orient": "none", "legendX": 450, "legendY": -56, "labelFontSize": 16.5, "padding": 1, "rowPadding": 0, "clipHeight": 18, "symbolOffset": 3, "labelOffset": 0, "fillColor": "transparent", "strokeColor": "transparent", "zindex": 0, "labelColor": "#333"}},
         "stroke": {"field": "s", "type": "nominal", "scale": {"domain": ["P1_469_wheel load 3760 (R)", "P1_586_wheel load 3760 (R)", "P1_690_wheel load 3760 (R)", "P1_897_wheel load 3760 (R)", "P1_586_wheel load 3880 (R)", "P1_690_wheel load 3880 (R)", "P1_897_wheel load 3880 (R)", "P1_469_wheel load 3880 (R)", "3800kg 897&690 kPa", "3800kg 586 kPa", "3800kg 469 kPa", "P1_469_wheel load 4280 (R)", "P1_586_wheel load 4280 (R)", "P1_690_wheel load 4280 (R)", "P1_897_wheel load 4280 (R)", "P1_469_wheel load 4280 (R) ", "4280kg 897&690 kPa", "4280kg 586 kPa", "4280kg 469 kPa"],
                    "range": ["#5db79e", "#a7c97c", "#3eaa5e", "#1b9a48", "#8db7df", "#6a9fd3", "#2165ae", "#a8c3e3", "#1b9a48", "#6dc08f", "#2da65c", "#c0392b", "#f2a98a", "#ee8b5f", "#e00000", "#d6b4b0", "#e2161c", "#e98a8a", "#bf3a30"]},
                    "legend": {"title": null, "orient": "none", "legendX": 450, "legendY": -56, "labelFontSize": 16.5, "padding": 1, "rowPadding": 0, "clipHeight": 18, "symbolOffset": 3, "labelOffset": 0, "fillColor": "transparent", "strokeColor": "transparent", "zindex": 0, "labelColor": "#333"}},
         "size": {"field": "s", "type": "nominal", "scale": {"type": "ordinal", "domain": ["P1_469_wheel load 3760 (R)", "P1_586_wheel load 3760 (R)", "P1_690_wheel load 3760 (R)", "P1_897_wheel load 3760 (R)", "P1_586_wheel load 3880 (R)", "P1_690_wheel load 3880 (R)", "P1_897_wheel load 3880 (R)", "P1_469_wheel load 3880 (R)", "3800kg 897&690 kPa", "3800kg 586 kPa", "3800kg 469 kPa", "P1_469_wheel load 4280 (R)", "P1_586_wheel load 4280 (R)", "P1_690_wheel load 4280 (R)", "P1_897_wheel load 4280 (R)", "P1_469_wheel load 4280 (R) ", "4280kg 897&690 kPa", "4280kg 586 kPa", "4280kg 469 kPa"],
                  "range": [130, 130, 130, 130, 110, 110, 110, 110, 1600, 1600, 1600, 150, 150, 150, 150, 130, 1600, 1600, 1600]},
                  "legend": {"title": null, "orient": "none", "legendX": 450, "legendY": -56, "labelFontSize": 16.5, "padding": 1, "rowPadding": 0, "clipHeight": 18, "symbolOffset": 3, "labelOffset": 0, "fillColor": "transparent", "strokeColor": "transparent", "zindex": 0, "labelColor": "#333"}}
       }},
      {"data": {"values": [{}]}, "mark": {"type": "text", "text": "Trailer 1st maxi wheel of loaded truck 1", "fontSize": 22.5, "fontWeight": "bold", "color": "#222", "align": "center", "baseline": "middle"},
       "encoding": {"x": {"datum": 159.07}, "y": {"datum": 395.3}}},
      {"data": {"values": [{}]}, "mark": {"type": "text", "text": "Колесная нагрузка", "fontSize": 29.5, "fontWeight": "bold", "color": "#000", "align": "left", "baseline": "middle"},
       "encoding": {"x": {"datum": 192.41}, "y": {"datum": -32.0}}},
      {"data": {"values": [{}]}, "mark": {"type": "text", "text": "3760 - 4280 кг", "fontSize": 29.5, "fontWeight": "bold", "color": "#000", "align": "left", "baseline": "middle"},
       "encoding": {"x": {"datum": 192.41}, "y": {"datum": -73.2}}},
      {"data": {"values": [{}]}, "mark": {"type": "rule", "color": "#00b0f0", "strokeWidth": 5},
       "encoding": {"x": {"datum": 135.25}, "x2": {"datum": 163.5}, "y": {"datum": 329.8}}},
      {"data": {"values": [{}]}, "mark": {"type": "rule", "color": "#00b0f0", "strokeWidth": 5},
       "encoding": {"x": {"datum": 135.25}, "x2": {"datum": 164.5}, "y": {"datum": 269.6}}},
      {"data": {"values": [{}]}, "mark": {"type": "rule", "color": "#00b0f0", "strokeWidth": 5},
       "encoding": {"x": {"datum": 135.25}, "x2": {"datum": 165.9}, "y": {"datum": 226.8}}},
      {"data": {"values": [{}]}, "mark": {"type": "point", "shape": "M-1,-0.46L0,0L-1,0.46", "size": 3136, "filled": false, "stroke": "#00b0f0", "strokeWidth": 5, "opacity": 1},
       "encoding": {"x": {"datum": 163.88}, "y": {"datum": 329.8}}},
      {"data": {"values": [{}]}, "mark": {"type": "point", "shape": "M-1,-0.46L0,0L-1,0.46", "size": 3136, "filled": false, "stroke": "#00b0f0", "strokeWidth": 5, "opacity": 1},
       "encoding": {"x": {"datum": 164.85}, "y": {"datum": 269.6}}},
      {"data": {"values": [{}]}, "mark": {"type": "point", "shape": "M-1,-0.46L0,0L-1,0.46", "size": 3136, "filled": false, "stroke": "#00b0f0", "strokeWidth": 5, "opacity": 1},
       "encoding": {"x": {"datum": 166.26}, "y": {"datum": 226.8}}},
      {"data": {"values": [{}]}, "mark": {"type": "point", "shape": "M-1,0A1,0.5,0,1,1,1,0A1,0.5,0,1,1,-1,0Z", "size": 4624, "filled": false, "stroke": "#00b0f0", "strokeWidth": 3, "opacity": 1},
       "encoding": {"x": {"datum": 136.76}, "y": {"datum": 352.3}}},
      {"data": {"values": [{}]}, "mark": {"type": "point", "shape": "M-1,0A1,0.595,0,1,1,1,0A1,0.595,0,1,1,-1,0Z", "size": 5476, "filled": false, "stroke": "#00b0f0", "strokeWidth": 3, "opacity": 1},
       "encoding": {"x": {"datum": 137.08}, "y": {"datum": 253.9}}}
    ]
  }
]
}
